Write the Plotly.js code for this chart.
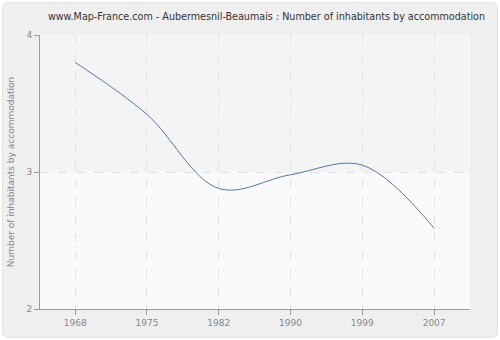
<!DOCTYPE html>
<html>
<head>
<meta charset="utf-8">
<script src="https://cdn.plot.ly/plotly-3.0.1.min.js"></script>
<style>
html,body{margin:0;padding:0;background:#fff;}
#wrap{position:absolute;left:2px;top:2px;width:494px;height:334px;border:1px solid #e2e2e2;border-radius:6px;background:#efefef;overflow:hidden;}
#chart{position:absolute;left:-3px;top:-3px;width:500px;height:340px;}
</style>
</head>
<body>
<div id="wrap"><div id="chart"></div></div>
<script>
var years = ['1968', '1975', '1982', '1990', '1999', '2007'];
var values = [3.80, 3.42, 2.88, 2.98, 3.05, 2.59];
var yTicks = [2, 3, 4];

var trace = {
  x: years,
  y: values,
  type: 'scatter',
  mode: 'lines',
  line: {color: '#4f79ad', width: 1, shape: 'spline', smoothing: 1},
  hoverinfo: 'x+y'
};

var font = 'DejaVu Sans, Verdana, sans-serif';
var layout = {
  width: 500,
  height: 340,
  margin: {l: 40, r: 30, t: 35, b: 31},
  paper_bgcolor: 'rgba(0,0,0,0)',
  plot_bgcolor: '#fafafa',
  showlegend: false,
  title: {
    text: 'www.Map-France.com - Aubermesnil-Beaumais : Number of inhabitants by accommodation',
    font: {family: font, size: 9.6, color: '#333'},
    x: 0.533, xanchor: 'center', y: 0.95, yanchor: 'middle'
  },
  shapes: [{
    type: 'rect', xref: 'paper', yref: 'y', x0: 0, x1: 1, y0: 3, y1: 4,
    fillcolor: '#f4f4f4', line: {width: 0}, layer: 'below'
  }],
  xaxis: {
    type: 'category',
    range: [-0.49, 5.5],
    ticks: 'outside', ticklen: 5, tickcolor: '#999',
    showline: true, linecolor: '#999', linewidth: 1,
    showgrid: true, gridcolor: '#e2e2e2', griddash: 'dash', gridwidth: 1,
    zeroline: false,
    tickfont: {family: font, size: 9, color: '#888'}
  },
  yaxis: {
    range: [2, 4],
    tickmode: 'array',
    tickvals: yTicks,
    ticks: 'outside', ticklen: 5, tickcolor: '#999',
    showline: true, linecolor: '#999', linewidth: 1,
    showgrid: true, gridcolor: '#e2e2e2', griddash: 'dash', gridwidth: 1,
    zeroline: false,
    tickfont: {family: font, size: 9, color: '#888'},
    title: {
      text: 'Number of inhabitants by accommodation',
      font: {family: font, size: 9, color: '#888'},
      standoff: 10
    }
  }
};

Plotly.newPlot('chart', [trace], layout, {displayModeBar: false, staticPlot: true});
</script>
</body>
</html>
